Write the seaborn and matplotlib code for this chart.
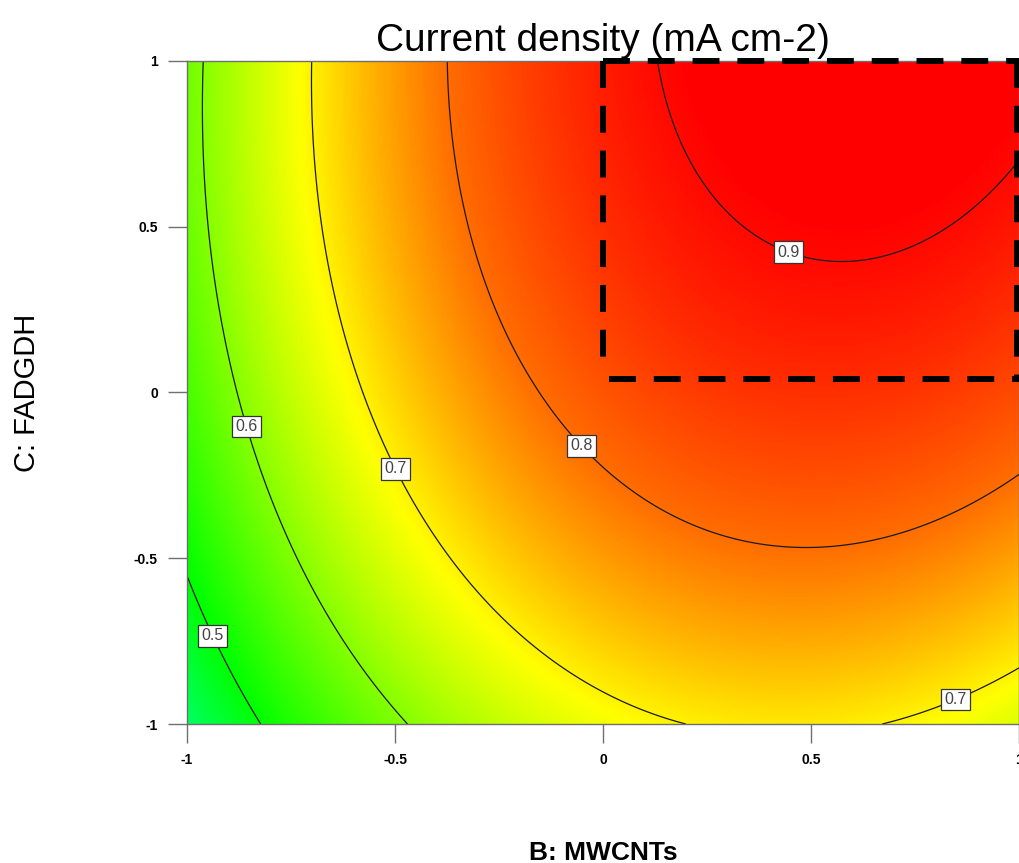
import numpy as np
import matplotlib
matplotlib.use("Agg")
import matplotlib.pyplot as plt
import seaborn as sns
from matplotlib.colors import LinearSegmentedColormap

# ---- data: fitted quadratic response-surface model (coded factors) ----
# Current density = b0 + b1*B + b2*C + b12*B*C + b11*B^2 + b22*C^2
b0 = 0.8245
b1 = 0.140
b2 = 0.099
b12 = 0.026
b11 = -0.131
b22 = -0.043

contour_levels = [0.5, 0.6, 0.7, 0.8, 0.9]
# approximate label anchor points (B, C)
label_points = [(-0.921, -0.724), (-0.842, -0.097), (-0.482, -0.220),
                (0.837, -0.896), (-0.038, -0.145), (0.453, 0.449)]
x_ticks = [-1, -0.5, 0, 0.5, 1]
y_ticks = [-1, -0.5, 0, 0.5, 1]
x_ticklabels = ["-1", "-0.5", "0", "0.5", "1"]
y_ticklabels = ["-1", "-0.5", "0", "0.5", "1"]
# optimal region (dashed box): B range, C range
box_B = [0.0, 1.0]
box_C = [0.04, 1.0]

title = "Current density (mA cm-2)"
xlabel = "B: MWCNTs"
ylabel = "C: FADGDH"

sns.set_theme(style="white")
plt.rcParams['font.family'] = ['Liberation Sans', 'DejaVu Sans']

Bg = np.linspace(-1, 1, 401)
Cg = np.linspace(-1, 1, 401)
BB, CC = np.meshgrid(Bg, Cg)
Z = b0 + b1 * BB + b2 * CC + b12 * BB * CC + b11 * BB ** 2 + b22 * CC ** 2

vmin, vmax = 0.40, 0.95
def nrm(v):
    return (v - vmin) / (vmax - vmin)
cmap = LinearSegmentedColormap.from_list("de", [
    (0.0, (0.0, 1.0, 0.6)),
    (nrm(0.50), (0.0, 1.0, 0.0)),
    (nrm(0.69), (1.0, 1.0, 0.0)),
    (nrm(0.80), (1.0, 0.43, 0.0)),
    (nrm(0.91), (1.0, 0.0, 0.0)),
    (1.0, (1.0, 0.0, 0.0)),
])

fig = plt.figure(figsize=(10.19, 8.63), dpi=100)
ax = fig.add_axes([187 / 1019, (863 - 724) / 863, 832 / 1019, 663 / 863])

ax.imshow(Z, extent=[-1, 1, -1, 1], origin="lower", aspect="auto",
          cmap=cmap, vmin=vmin, vmax=vmax, interpolation="bilinear")
cs = ax.contour(BB, CC, Z, levels=contour_levels, colors="#1a1a1a",
                linewidths=0.9)
labels = ax.clabel(cs, inline=False, fmt="%.1f", fontsize=11.5,
                   manual=label_points, colors="#444444")
for t in labels:
    t.set_rotation(0)
    t.set_bbox(dict(boxstyle="square,pad=0.2", facecolor="white",
                    edgecolor="#333333", linewidth=0.9))

# dashed optimal region box
dash_kw = dict(color="black", linewidth=4.3, linestyle=(0, (4.5, 3)),
               solid_capstyle="butt", dash_capstyle="butt", clip_on=False,
               zorder=5)
ax.plot([box_B[0], box_B[1]], [box_C[1], box_C[1]], **dash_kw)
ax.plot([box_B[0] + 0.015, box_B[1]], [box_C[0], box_C[0]], **dash_kw)
ax.plot([box_B[0], box_B[0]], [box_C[1], box_C[0] + 0.04], **dash_kw)
ax.plot([box_B[1] - 0.005, box_B[1] - 0.005], [box_C[1], box_C[0]], **dash_kw)

ax.set_xlim(-1, 1)
ax.set_ylim(-1, 1)
ax.set_xticks(x_ticks)
ax.set_xticklabels(x_ticklabels)
ax.set_yticks(y_ticks)
ax.set_yticklabels(y_ticklabels)
ax.tick_params(axis="both", which="major", direction="out", length=14,
               width=1.0, color="#707070", pad=7, labelsize=10,
               bottom=True, left=True, labelcolor="black")
for lab in ax.get_xticklabels() + ax.get_yticklabels():
    lab.set_fontweight("bold")
for sp in ax.spines.values():
    sp.set_color("#707070")
    sp.set_linewidth(1.0)

ax.set_title(title, fontsize=28, pad=7, color="black")
ax.set_xlabel(xlabel, fontsize=19, fontweight="bold", color="black")
ax.xaxis.set_label_coords(0.5, -0.176)
ax.set_ylabel(ylabel, fontsize=21, color="black")
ax.yaxis.set_label_coords(-0.175, 0.5)

fig.savefig("out.png", dpi=100)
